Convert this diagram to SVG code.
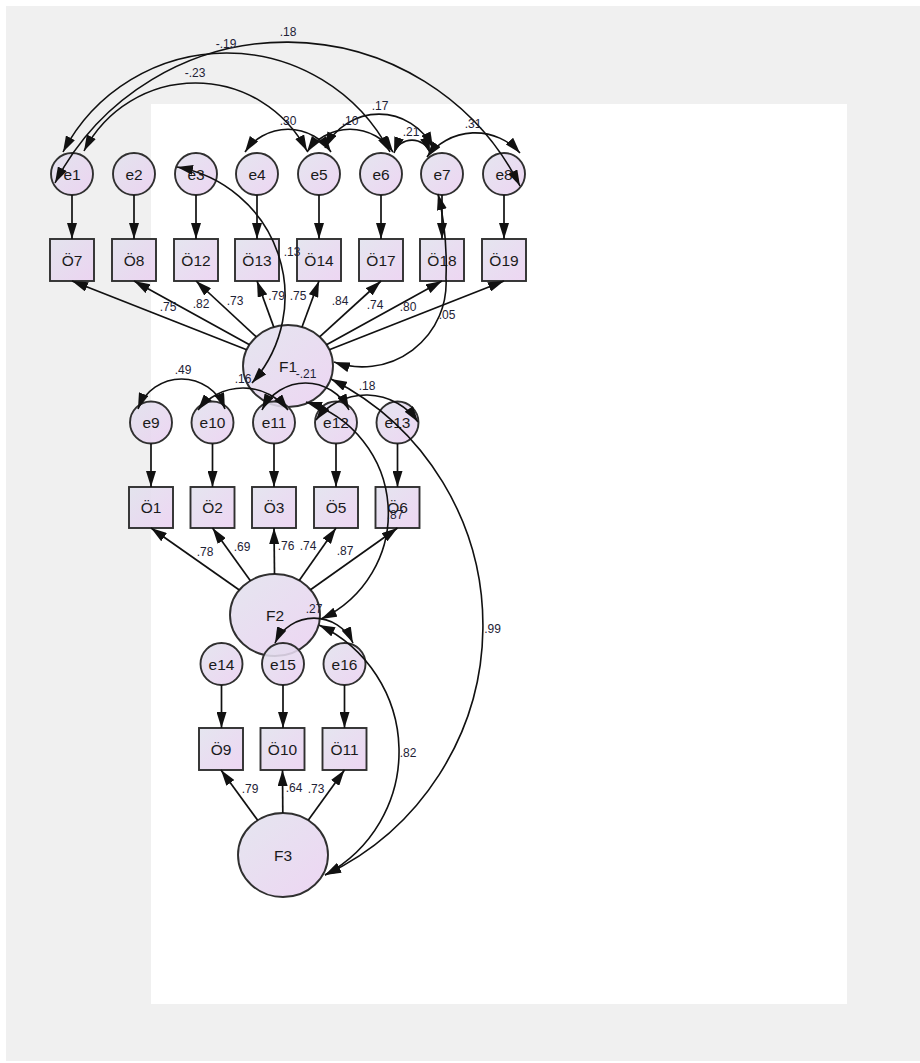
<svg xmlns="http://www.w3.org/2000/svg" width="920" height="1063" viewBox="0 0 920 1063">
  <defs>
    <linearGradient id="nodeFill" x1="0" y1="0" x2="1" y2="1">
      <stop offset="0" stop-color="#e1e2ed"/>
      <stop offset="1" stop-color="#ebd0f1"/>
    </linearGradient>
    <marker id="ah" viewBox="0 0 16 10" refX="16" refY="5" markerWidth="16" markerHeight="10" markerUnits="userSpaceOnUse" orient="auto-start-reverse">
      <path d="M0,0 L16,5 L0,10 z" fill="#111"/>
    </marker>
    <style>
      .node { fill: url(#nodeFill); fill-opacity: 0.88; stroke: #303030; stroke-width: 1.9; }
      .lbl { font-family: "Liberation Sans", Arial, sans-serif; font-size: 15.5px; fill: #1a1a1a; text-anchor: middle; }
      .val { font-family: "Liberation Sans", Arial, sans-serif; font-size: 12px; fill: #1e2236; text-anchor: middle; }
      .path { fill: none; stroke: #111; stroke-width: 1.7; marker-end: url(#ah); }
      .cov { fill: none; stroke: #111; stroke-width: 1.6; marker-start: url(#ah); marker-end: url(#ah); }
    </style>
  </defs>

  <!-- canvas -->
  <rect x="0" y="0" width="920" height="1063" fill="#ffffff"/>
  <rect x="6" y="6" width="914" height="1055" fill="#f0f0f0"/>
  <rect x="151" y="104" width="696" height="900" fill="#ffffff"/>

  <!-- latent factors -->
  <g id="F1"><ellipse class="node" cx="288" cy="366" rx="45" ry="41"/><text class="lbl" x="288" y="372">F1</text></g>
  <g id="F2"><ellipse class="node" cx="275" cy="615" rx="45" ry="41"/><text class="lbl" x="275" y="621">F2</text></g>
  <g id="F3"><ellipse class="node" cx="283" cy="855" rx="45" ry="42"/><text class="lbl" x="283" y="861">F3</text></g>

  <!-- observed items, F1 block -->
  <g id="O7"><rect class="node" x="50" y="239" width="44" height="42"/><text class="lbl" x="72" y="265.5">Ö7</text></g>
  <g id="O8"><rect class="node" x="112" y="239" width="44" height="42"/><text class="lbl" x="134" y="265.5">Ö8</text></g>
  <g id="O12"><rect class="node" x="174" y="239" width="44" height="42"/><text class="lbl" x="196" y="265.5">Ö12</text></g>
  <g id="O13"><rect class="node" x="235" y="239" width="44" height="42"/><text class="lbl" x="257" y="265.5">Ö13</text></g>
  <g id="O14"><rect class="node" x="297" y="239" width="44" height="42"/><text class="lbl" x="319" y="265.5">Ö14</text></g>
  <g id="O17"><rect class="node" x="359" y="239" width="44" height="42"/><text class="lbl" x="381" y="265.5">Ö17</text></g>
  <g id="O18"><rect class="node" x="420" y="239" width="44" height="42"/><text class="lbl" x="442" y="265.5">Ö18</text></g>
  <g id="O19"><rect class="node" x="482" y="239" width="44" height="42"/><text class="lbl" x="504" y="265.5">Ö19</text></g>

  <!-- observed items, F2 block -->
  <g id="O1"><rect class="node" x="129" y="487" width="44" height="41"/><text class="lbl" x="151" y="513">Ö1</text></g>
  <g id="O2"><rect class="node" x="190.5" y="487" width="44" height="41"/><text class="lbl" x="212.5" y="513">Ö2</text></g>
  <g id="O3"><rect class="node" x="252" y="487" width="44" height="41"/><text class="lbl" x="274" y="513">Ö3</text></g>
  <g id="O5"><rect class="node" x="314" y="487" width="44" height="41"/><text class="lbl" x="336" y="513">Ö5</text></g>
  <g id="O6"><rect class="node" x="375.5" y="487" width="44" height="41"/><text class="lbl" x="397.5" y="513">Ö6</text></g>

  <!-- observed items, F3 block -->
  <g id="O9"><rect class="node" x="199" y="728" width="44" height="42"/><text class="lbl" x="221" y="754.5">Ö9</text></g>
  <g id="O10"><rect class="node" x="260.5" y="728" width="44" height="42"/><text class="lbl" x="282.5" y="754.5">Ö10</text></g>
  <g id="O11"><rect class="node" x="322.5" y="728" width="44" height="42"/><text class="lbl" x="344.5" y="754.5">Ö11</text></g>

  <!-- error terms -->
  <g id="e1"><circle class="node" cx="72" cy="174" r="21"/><text class="lbl" x="72" y="179.5">e1</text></g>
  <g id="e2"><circle class="node" cx="134" cy="174" r="21"/><text class="lbl" x="134" y="179.5">e2</text></g>
  <g id="e3"><circle class="node" cx="196" cy="174" r="21"/><text class="lbl" x="196" y="179.5">e3</text></g>
  <g id="e4"><circle class="node" cx="257" cy="174" r="21"/><text class="lbl" x="257" y="179.5">e4</text></g>
  <g id="e5"><circle class="node" cx="319" cy="174" r="21"/><text class="lbl" x="319" y="179.5">e5</text></g>
  <g id="e6"><circle class="node" cx="381" cy="174" r="21"/><text class="lbl" x="381" y="179.5">e6</text></g>
  <g id="e7"><circle class="node" cx="442" cy="174" r="21"/><text class="lbl" x="442" y="179.5">e7</text></g>
  <g id="e8"><circle class="node" cx="504" cy="174" r="21"/><text class="lbl" x="504" y="179.5">e8</text></g>
  <g id="e9"><circle class="node" cx="151" cy="422.5" r="21"/><text class="lbl" x="151" y="428">e9</text></g>
  <g id="e10"><circle class="node" cx="212.5" cy="422.5" r="21"/><text class="lbl" x="212.5" y="428">e10</text></g>
  <g id="e11"><circle class="node" cx="274" cy="422.5" r="21"/><text class="lbl" x="274" y="428">e11</text></g>
  <g id="e12"><circle class="node" cx="336" cy="422.5" r="21"/><text class="lbl" x="336" y="428">e12</text></g>
  <g id="e13"><circle class="node" cx="397.5" cy="422.5" r="21"/><text class="lbl" x="397.5" y="428">e13</text></g>
  <g id="e14"><circle class="node" cx="221.5" cy="664" r="21"/><text class="lbl" x="221.5" y="669.5">e14</text></g>
  <g id="e15"><circle class="node" cx="283" cy="664" r="21"/><text class="lbl" x="283" y="669.5">e15</text></g>
  <g id="e16"><circle class="node" cx="344.5" cy="664" r="21"/><text class="lbl" x="344.5" y="669.5">e16</text></g>

  <g id="connectors">
    <!-- error -> item -->
    <path class="path" d="M72,195 V239"/>
    <path class="path" d="M134,195 V239"/>
    <path class="path" d="M196,195 V239"/>
    <path class="path" d="M257,195 V239"/>
    <path class="path" d="M319,195 V239"/>
    <path class="path" d="M381,195 V239"/>
    <path class="path" d="M442,195 V239"/>
    <path class="path" d="M504,195 V239"/>
    <path class="path" d="M151,443.5 V487"/>
    <path class="path" d="M212.5,443.5 V487"/>
    <path class="path" d="M274,443.5 V487"/>
    <path class="path" d="M336,443.5 V487"/>
    <path class="path" d="M397.5,443.5 V487"/>
    <path class="path" d="M221.5,685 V728"/>
    <path class="path" d="M283,685 V728"/>
    <path class="path" d="M344.5,685 V728"/>

    <!-- factor loadings -->
    <path class="path" d="M246.7,349.7 L72,281"/>
    <path class="path" d="M249.5,344.8 L134,281"/>
    <path class="path" d="M256.3,336.9 L196,281"/>
    <path class="path" d="M273.8,327.1 L257,281"/>
    <path class="path" d="M302,327 L319,281"/>
    <path class="path" d="M319.6,336.8 L381,281"/>
    <path class="path" d="M326.5,344.8 L442,281"/>
    <path class="path" d="M329.3,349.7 L504,281"/>
    <path class="path" d="M239.3,590 L151,528"/>
    <path class="path" d="M250.4,580.7 L212.5,528"/>
    <path class="path" d="M274.5,574 L274,528"/>
    <path class="path" d="M299.2,580.5 L336,528"/>
    <path class="path" d="M310.5,589.8 L397.5,528"/>
    <path class="path" d="M257.7,820.3 L221,770"/>
    <path class="path" d="M282.8,813 L282.5,770"/>
    <path class="path" d="M308.2,820.2 L344.5,770"/>

    <!-- covariances -->
    <path class="cov" d="M55,183 A261,261 0 0 1 520,186"/>
    <path class="cov" d="M63,152 A184.5,184.5 0 0 1 390,152"/>
    <path class="cov" d="M84,151 A125.4,125.4 0 0 1 307,151"/>
    <path class="cov" d="M245,152 A52,52 0 0 1 331,152"/>
    <path class="cov" d="M307,152 A52,52 0 0 1 393,152"/>
    <path class="cov" d="M325,148 A60,60 0 0 1 433,148"/>
    <path class="cov" d="M394,153 A19,19 0 0 1 430,153"/>
    <path class="cov" d="M427,157 A60,60 0 0 1 520,153"/>
    <path class="cov" d="M177,167 A131,131 0 0 1 252,383"/>
    <path class="cov" d="M438,194 C445,222 447,250 446,278 A84,84 0 0 1 334,362"/>
    <path class="cov" d="M138,409 A46.5,46.5 0 0 1 225,409"/>
    <path class="cov" d="M198,410 A57,57 0 0 1 288,410"/>
    <path class="cov" d="M262,410 A48.5,48.5 0 0 1 349,410"/>
    <path class="cov" d="M316,420 A63,63 0 0 1 418,422"/>
    <path class="cov" d="M306,402 A116.5,116.5 0 0 1 321,619"/>
    <path class="cov" d="M331,379 A276,276 0 0 1 325,875"/>
    <path class="cov" d="M275,643 A43,43 0 0 1 353,643"/>
    <path class="cov" d="M319,625 A140,140 0 0 1 325,875"/>
  </g>

  <g id="values">
    <text class="val" x="288" y="36">.18</text>
    <text class="val" x="226" y="48">-.19</text>
    <text class="val" x="195" y="77">-.23</text>
    <text class="val" x="288" y="125">.30</text>
    <text class="val" x="380" y="110">.17</text>
    <text class="val" x="350" y="125">.10</text>
    <text class="val" x="411" y="136">.21</text>
    <text class="val" x="473" y="128">.31</text>
    <text class="val" x="168" y="311">.75</text>
    <text class="val" x="201" y="308">.82</text>
    <text class="val" x="235" y="305">.73</text>
    <text class="val" x="276.5" y="300">.79</text>
    <text class="val" x="292" y="256">.13</text>
    <text class="val" x="298" y="300">.75</text>
    <text class="val" x="340" y="305">.84</text>
    <text class="val" x="375" y="309">.74</text>
    <text class="val" x="408" y="311">.80</text>
    <text class="val" x="447" y="319">.05</text>
    <text class="val" x="306" y="378">-.21</text>
    <text class="val" x="183" y="374">.49</text>
    <text class="val" x="243" y="383">.16</text>
    <text class="val" x="367" y="390">.18</text>
    <text class="val" x="395" y="519">.87</text>
    <text class="val" x="205" y="556">.78</text>
    <text class="val" x="242" y="551">.69</text>
    <text class="val" x="286" y="550">.76</text>
    <text class="val" x="308" y="550">.74</text>
    <text class="val" x="345" y="555">.87</text>
    <text class="val" x="314" y="613">.27</text>
    <text class="val" x="492.5" y="633">.99</text>
    <text class="val" x="408" y="757">.82</text>
    <text class="val" x="250" y="793">.79</text>
    <text class="val" x="294" y="792">.64</text>
    <text class="val" x="316" y="793">.73</text>
  </g>
</svg>
